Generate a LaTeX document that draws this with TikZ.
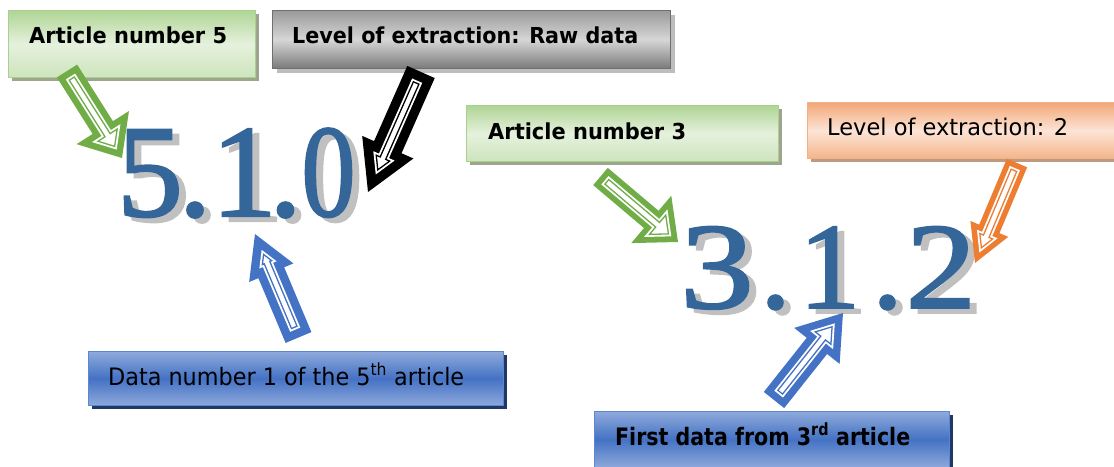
\documentclass[tikz,border=0pt]{standalone}
\usepackage{fontspec}
\setmainfont{DejaVu Sans}
\newfontfamily\numfont[FakeBold=1.6]{Liberation Serif}
\usetikzlibrary{calc,shadows}
\definecolor{numblue}{HTML}{346699}
\definecolor{numshadow}{HTML}{C0C0C0}
\definecolor{agreen}{HTML}{70AD47}
\definecolor{aorange}{HTML}{ED7D31}
\definecolor{ablue}{HTML}{4472C4}
\definecolor{gtop}{HTML}{B0D595}
\definecolor{gmid}{HTML}{E5F1DD}
\definecolor{gbot}{HTML}{CDE4BC}
\definecolor{gborder}{HTML}{A9D18E}
\definecolor{gshadow}{HTML}{9EA58F}
\definecolor{ktop}{HTML}{9A9A9A}
\definecolor{kmid}{HTML}{D6D6D6}
\definecolor{kbot}{HTML}{7A7A7A}
\definecolor{kborder}{HTML}{6F6F6F}
\definecolor{kshadow}{HTML}{BDBDBD}
\definecolor{otop}{HTML}{F2A878}
\definecolor{omid}{HTML}{FCE4D6}
\definecolor{obot}{HTML}{F4B58A}
\definecolor{oborder}{HTML}{F4B183}
\definecolor{oshadow}{HTML}{BE9A80}
\definecolor{btop}{HTML}{8EA9DB}
\definecolor{bmid}{HTML}{4472C4}
\definecolor{bbot}{HTML}{8EA9DB}
\definecolor{bborder}{HTML}{5B87D2}
\definecolor{bshadow}{HTML}{1F3864}
\newcommand\barrowpoly[7]{%
  \pgfmathsetmacro\bS{sqrt((#4)^2+(#5)^2)}%
  \pgfmathsetmacro\bs{#3-#6}%
  \pgfmathsetmacro\ba{#5-#6}%
  \pgfmathsetmacro\bw{#4-(#6)*(#4+\bS)/(#5)}%
  \pgfmathsetmacro\bt{(#6)*\bS/(#4)}%
  \path[#7] ($(#1)!#6 pt!(#2)!\bs pt!90:(#2)$)
    -- ($(#2)!\ba pt!(#1)!\bs pt!-90:(#1)$)
    -- ($(#2)!\ba pt!(#1)!\bw pt!-90:(#1)$)
    -- ($(#2)!\bt pt!(#1)$)
    -- ($(#2)!\ba pt!(#1)!\bw pt!90:(#1)$)
    -- ($(#2)!\ba pt!(#1)!\bs pt!90:(#1)$)
    -- ($(#1)!#6 pt!(#2)!\bs pt!-90:(#2)$) -- cycle;}
\newcommand\barrow[6]{%
  \pgfmathsetmacro\bdA{#3-5.5}%
  \pgfmathsetmacro\bdB{#3-3}%
  \barrowpoly{#1}{#2}{#3}{#4}{#5}{0}{fill=#6}%
  \barrowpoly{#1}{#2}{#3}{#4}{#5}{\bdA}{fill=white}%
  \barrowpoly{#1}{#2}{#3}{#4}{#5}{\bdB}{draw=#6,line width=1.3pt,line join=miter}}
\newcommand\numglyph[6]{%
  \node[numshade,font=\numfont\fontsize{#6}{#6}\selectfont] (#1s) at (#2+7,#3+5) {\scalebox{#5}[1]{#4}};
  \node[numglyph,font=\numfont\fontsize{#6}{#6}\selectfont] (#1) at (#2,#3) {\scalebox{#5}[1]{#4}};}
\newcommand\fitw[2]{\resizebox{#1pt}{\height}{#2}}
\tikzset{
  box/.style={line width=1.2pt, inner sep=0pt, anchor=north west},
  greenbox/.style={box, draw=gborder, top color=gtop, bottom color=gbot, middle color=gmid,
     drop shadow={fill=gshadow, opacity=1, shadow xshift=3pt, shadow yshift=-3pt}},
  graybox/.style={box, draw=kborder, top color=ktop, bottom color=kbot, middle color=kmid,
     drop shadow={fill=kshadow, opacity=1, shadow xshift=4pt, shadow yshift=-4pt}},
  orangebox/.style={box, draw=oborder, top color=otop, bottom color=obot, middle color=omid,
     drop shadow={fill=oshadow, opacity=1, shadow xshift=3pt, shadow yshift=-3pt}},
  bluebox/.style={box, draw=bborder, top color=btop, bottom color=bbot, middle color=bmid,
     drop shadow={fill=bshadow, opacity=1, shadow xshift=3pt, shadow yshift=-3pt}},
  boldlabel/.style={anchor=base west, inner sep=0pt, text=black, font=\bfseries\fontsize{22}{22}\selectfont},
  reglabel/.style={anchor=base west, inner sep=0pt, text=black, font=\fontsize{23}{23}\selectfont},
  numglyph/.style={anchor=base, inner sep=0pt, text=numblue},
  numshade/.style={anchor=base, inner sep=0pt, text=numshadow},
}
\begin{document}
\begin{tikzpicture}[x=1pt,y=-1pt]
\useasboundingbox (0,0) rectangle (1114,466);
\clip (0,0) rectangle (1114,466);
% boxes
\node[greenbox, minimum width=247pt, minimum height=67pt] (a5box) at (8,10) {};
\node[boldlabel] (a5txt) at (29,43) {\fitw{198}{Article number 5}};
\node[graybox, minimum width=398pt, minimum height=58pt] (rawbox) at (272,10) {};
\node[boldlabel] (rawtxt) at (292,43) {\fitw{346}{Level of extraction: Raw data}};
\node[greenbox, minimum width=312pt, minimum height=56pt] (a3box) at (466,105) {};
\node[boldlabel] (a3txt) at (488,139) {\fitw{198}{Article number 3}};
\node[orangebox, minimum width=330pt, minimum height=56pt] (l2box) at (807,102) {};
\node[reglabel] (l2txt) at (827,135) {\fitw{241}{Level of extraction: 2}};
\node[bluebox, minimum width=415pt, minimum height=54pt] (d5box) at (88,351) {};
\node[reglabel, font=\fontsize{24}{24}\selectfont] (d5txt) at (108,385) {\fitw{356}{Data number 1 of the 5\textsuperscript{th} article}};
\node[bluebox, minimum width=355pt, minimum height=56pt] (f3box) at (594,411) {};
\node[boldlabel, font=\bfseries\fontsize{24}{24}\selectfont] (f3txt) at (615,445) {\fitw{295}{First data from 3\textsuperscript{rd} article}};
% numbers
\numglyph{n5}{150}{216}{5}{1}{132}
\numglyph{n5d}{195}{216}{.}{1}{132}
\numglyph{n51}{244}{216}{1}{1}{132}
\numglyph{n5e}{285.5}{216}{.}{1}{132}
\numglyph{n50}{328.5}{216}{0}{0.82}{132}
\numglyph{n3}{717}{308}{3}{1.2}{123}
\numglyph{n3d}{775.5}{308}{.}{1}{123}
\numglyph{n31}{829.5}{308}{1}{1}{123}
\numglyph{n3e}{887.5}{308}{.}{1}{123}
\numglyph{n32}{941}{308}{2}{1.15}{123}
% arrows
\coordinate (g1t) at (67,71);   \coordinate (g1p) at (122,158);
\coordinate (bkt) at (421,72);  \coordinate (bkp) at (368,192);
\coordinate (g2t) at (600.5,176.5); \coordinate (g2p) at (678,242);
\coordinate (ort) at (1017,163); \coordinate (orp) at (975,263);
\coordinate (b1t) at (298.5,337.5); \coordinate (b1p) at (255,234);
\coordinate (b2t) at (774,400); \coordinate (b2p) at (843,313);
\barrow{g1t}{g1p}{12}{31}{36}{agreen}
\barrow{bkt}{bkp}{15}{28}{49}{black}
\barrow{g2t}{g2p}{11.3}{31}{35}{agreen}
\barrow{ort}{orp}{11}{20.5}{37}{aorange}
\barrow{b1t}{b1p}{14}{24}{42}{ablue}
\barrow{b2t}{b2p}{13}{29}{42}{ablue}
\end{tikzpicture}
\end{document}
